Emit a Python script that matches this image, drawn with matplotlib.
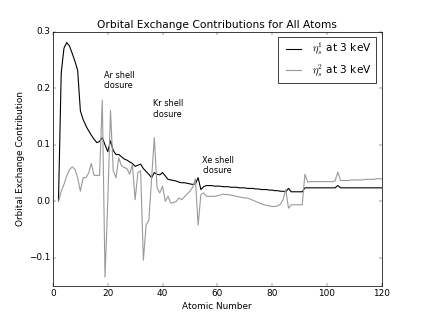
import matplotlib
matplotlib.use("Agg")
import matplotlib.pyplot as plt
import numpy as np

plt.style.use('classic')

atomic_numbers = list(range(2, 121))

eta1 = [0.0, 0.227, 0.271, 0.281, 0.275, 0.262, 0.248, 0.232, 0.160,
        0.145, 0.134, 0.125, 0.117, 0.110, 0.104, 0.106, 0.113, 0.100, 0.088,
        0.107, 0.090, 0.083, 0.083, 0.079, 0.075, 0.073, 0.070, 0.067, 0.062,
        0.064, 0.066, 0.058, 0.053, 0.048, 0.042, 0.051, 0.048, 0.047, 0.051,
        0.045, 0.039, 0.038, 0.037, 0.036, 0.034, 0.033, 0.033, 0.032, 0.031,
        0.030, 0.031, 0.042, 0.021, 0.026, 0.028, 0.028, 0.028, 0.027, 0.027,
        0.027, 0.026, 0.026, 0.026, 0.025, 0.025, 0.025, 0.024, 0.024, 0.024,
        0.023, 0.023, 0.023, 0.022, 0.022, 0.021, 0.021, 0.021, 0.020, 0.020,
        0.019, 0.019, 0.018, 0.018, 0.017, 0.023, 0.017, 0.017, 0.017, 0.017,
        0.017, 0.024, 0.024, 0.024, 0.024, 0.024, 0.024, 0.024, 0.024, 0.024,
        0.024, 0.024, 0.024, 0.028, 0.024, 0.024, 0.024, 0.024, 0.024, 0.024,
        0.024, 0.024, 0.024, 0.024, 0.024, 0.024, 0.024, 0.024, 0.024, 0.024]

eta2 = [0.0, 0.018, 0.030, 0.045, 0.056, 0.061, 0.057, 0.042, 0.018,
        0.042, 0.042, 0.050, 0.067, 0.046, 0.046, 0.046, 0.179, -0.134, 0.0,
        0.161, 0.054, 0.042, 0.077, 0.063, 0.060, 0.058, 0.048, 0.065, 0.003,
        0.051, 0.054, -0.104, -0.042, -0.033, 0.040, 0.113, 0.024, 0.015, 0.027,
        0.000, 0.009, -0.003, -0.002, 0.000, 0.006, 0.003, 0.008, 0.013, 0.018,
        0.025, 0.040, -0.042, 0.012, 0.015, 0.009, 0.009, 0.009, 0.009, 0.010,
        0.011, 0.013, 0.012, 0.012, 0.011, 0.010, 0.009, 0.008, 0.007, 0.006,
        0.006, 0.004, 0.002, 0.000, -0.002, -0.004, -0.006, -0.007, -0.008, -0.009,
        -0.009, -0.008, -0.005, 0.003, 0.021, -0.012, -0.006, -0.006, -0.006, -0.006,
        -0.006, 0.048, 0.034, 0.035, 0.035, 0.035, 0.035, 0.035, 0.035, 0.035,
        0.035, 0.035, 0.036, 0.052, 0.037, 0.037, 0.037, 0.037, 0.038, 0.038,
        0.038, 0.038, 0.038, 0.039, 0.039, 0.039, 0.039, 0.040, 0.040, 0.040]

annotations = ["Ar shell\nclosure", "Kr shell\nclosure", "Xe shell\nclosure"]
annot_x = [18.5, 36.5, 54.5]
annot_y = [0.2, 0.15, 0.05]

fig = plt.figure(figsize=(8, 6), dpi=53)
ax = fig.add_subplot(111)
ax.plot(atomic_numbers, eta1, color='k', lw=1.5, label=r'$\eta_s^1$ at 3 keV')
ax.plot(atomic_numbers, eta2, color='0.6', lw=1.5, label=r'$\eta_s^2$ at 3 keV')
for t, x, y in zip(annotations, annot_x, annot_y):
    ax.text(x, y, t, fontsize=11)
ax.set_xlim(0, 120)
ax.set_ylim(-0.15, 0.3)
ax.set_xticks([0, 20, 40, 60, 80, 100, 120])
ax.set_yticks([-0.1, 0.0, 0.1, 0.2, 0.3])
ax.set_xlabel('Atomic Number')
ax.set_ylabel('Orbital Exchange Contribution')
ax.set_title('Orbital Exchange Contributions for All Atoms')
ax.legend(loc='upper right')
fig.savefig('out.png', dpi=53)
